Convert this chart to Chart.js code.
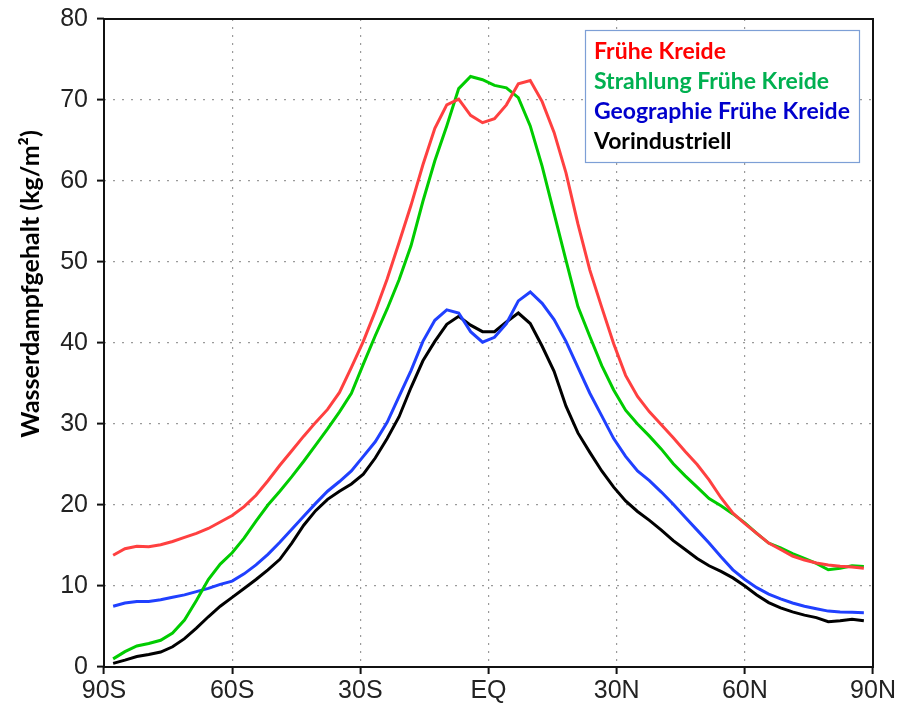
<!DOCTYPE html>
<html>
<head>
<meta charset="utf-8">
<script src="https://cdn.jsdelivr.net/npm/chart.js@4"></script>
<style>
  html, body { margin: 0; padding: 0; background: #fff; }
  #wrap { width: 898px; height: 704px; }
</style>
</head>
<body>
<div id="wrap"><canvas id="chart" width="898" height="704"></canvas></div>
<script>
// Latitudes of the model grid (south to north)
const latitudes = [
  -87.86, -85.10, -82.31, -79.53, -76.74, -73.95, -71.16, -68.37, -65.58, -62.79, -60.00,
  -57.21, -54.42, -51.63, -48.84, -46.04, -43.25, -40.46, -37.67, -34.88, -32.09, -29.30,
  -26.51, -23.72, -20.93, -18.14, -15.35, -12.56, -9.77, -6.98, -4.19, -1.40,
  1.40, 4.19, 6.98, 9.77, 12.56, 15.35, 18.14, 20.93, 23.72, 26.51, 29.30, 32.09,
  34.88, 37.67, 40.46, 43.25, 46.04, 48.84, 51.63, 54.42, 57.21, 60.00, 62.79,
  65.58, 68.37, 71.16, 73.95, 76.74, 79.53, 82.31, 85.10, 87.86
];

// Water vapour content (kg/m2) per run
const fruheKreide = [
  13.8, 14.6, 14.9, 14.85, 15.1, 15.5, 16.0, 16.5, 17.1, 17.9, 18.7,
  19.8, 21.2, 23.0, 24.9, 26.7, 28.5, 30.2, 31.8, 33.9, 37.0, 40.2,
  43.9, 47.9, 52.4, 57.0, 62.0, 66.5, 69.4, 70.1, 68.1, 67.2,
  67.7, 69.4, 72.0, 72.4, 69.8, 66.0, 61.0, 54.7, 49.0, 44.4, 39.9, 36.0,
  33.4, 31.5, 29.9, 28.3, 26.6, 25.0, 23.1, 20.9, 19.0, 17.7, 16.5,
  15.3, 14.5, 13.7, 13.2, 12.85, 12.6, 12.45, 12.35, 12.2
];
const strahlung = [
  1.0, 1.9, 2.6, 2.9, 3.3, 4.2, 5.8, 8.2, 10.8, 12.7, 14.1,
  15.9, 18.0, 20.0, 21.7, 23.5, 25.4, 27.4, 29.4, 31.5, 33.8, 37.4,
  40.9, 44.2, 47.8, 52.0, 57.5, 62.5, 66.8, 71.4, 72.9, 72.5,
  71.8, 71.5, 70.3, 66.8, 61.8, 56.0, 50.2, 44.5, 40.8, 37.2, 34.2, 31.7,
  30.0, 28.5, 26.9, 25.1, 23.6, 22.2, 20.8, 19.9, 18.9, 17.8, 16.5,
  15.3, 14.7, 14.0, 13.4, 12.8, 12.0, 12.2, 12.5, 12.4
];
const geographie = [
  7.5, 7.9, 8.1, 8.1, 8.3, 8.6, 8.9, 9.3, 9.7, 10.2, 10.6,
  11.5, 12.6, 13.9, 15.4, 17.0, 18.6, 20.2, 21.7, 22.9, 24.2, 26.0,
  27.8, 30.2, 33.4, 36.6, 40.2, 42.8, 44.1, 43.7, 41.4, 40.1,
  40.7, 42.4, 45.2, 46.3, 44.9, 42.9, 40.2, 37.0, 33.8, 31.0, 28.2, 26.0,
  24.2, 23.0, 21.6, 20.1, 18.5, 16.9, 15.3, 13.6, 12.0, 10.8, 9.8,
  9.0, 8.4, 7.9, 7.5, 7.2, 6.9, 6.8, 6.75, 6.7
];
const vorindustriell = [
  0.45, 0.85, 1.3, 1.55, 1.85, 2.5, 3.5, 4.8, 6.2, 7.5, 8.6,
  9.7, 10.8, 12.0, 13.3, 15.3, 17.5, 19.3, 20.7, 21.7, 22.6, 23.8,
  25.8, 28.2, 30.9, 34.5, 37.8, 40.2, 42.3, 43.3, 42.2, 41.4,
  41.4, 42.6, 43.7, 42.4, 39.6, 36.5, 32.2, 28.9, 26.5, 24.2, 22.2, 20.5,
  19.2, 18.1, 16.9, 15.6, 14.5, 13.4, 12.5, 11.8, 11.0, 10.0, 8.9,
  7.95, 7.3, 6.8, 6.4, 6.1, 5.6, 5.7, 5.9, 5.7
];

const seriesNames = ['Frühe Kreide', 'Strahlung Frühe Kreide', 'Geographie Frühe Kreide', 'Vorindustriell'];
const xTickLabels = ['90S', '60S', '30S', 'EQ', '30N', '60N', '90N'];
const yTitle = 'Wasserdampfgehalt (kg/m²)';

const lineColors = ['#ff4040', '#00cc00', '#2040ff', '#000000'];
const legendColors = ['#ff0000', '#00b050', '#0000cc', '#000000'];

// pair each value with its latitude
function toPoints(values) {
  return values.map((v, i) => ({ x: latitudes[i], y: v }));
}

// Frame, y title and the boxed legend drawn by hand
const extras = {
  id: 'extras',
  afterDatasetsDraw(chart) {
    const ctx = chart.ctx;
    const a = chart.chartArea;
    ctx.save();
    ctx.strokeStyle = '#111';
    ctx.lineWidth = 2;
    ctx.strokeRect(a.left, a.top, a.right - a.left, a.bottom - a.top);

    // legend box
    ctx.fillStyle = '#fff';
    ctx.fillRect(585.5, 30.5, 274, 132);
    ctx.strokeStyle = '#7d9fd6';
    ctx.lineWidth = 1.2;
    ctx.strokeRect(585.5, 30.5, 274, 132);
    ctx.font = 'bold 23px Lato';
    ctx.textAlign = 'left';
    ctx.textBaseline = 'middle';
    seriesNames.forEach((name, i) => {
      ctx.fillStyle = legendColors[i];
      ctx.fillText(name, 594, 52 + i * 30);
    });
    ctx.restore();
  },
  afterDraw(chart) {
    const ctx = chart.ctx;
    ctx.save();
    ctx.translate(31, 284);
    ctx.rotate(-Math.PI / 2);
    ctx.font = 'bold 25px Lato';
    ctx.fillStyle = '#000';
    ctx.textAlign = 'center';
    ctx.textBaseline = 'middle';
    ctx.fillText(yTitle, 0, 0);
    ctx.restore();
  }
};

const tickFont = { family: 'Liberation Sans', size: 25, lineHeight: 1 };

new Chart(document.getElementById('chart'), {
  type: 'line',
  data: {
    datasets: [fruheKreide, strahlung, geographie, vorindustriell].map((vals, i) => ({
      label: seriesNames[i],
      data: toPoints(vals),
      borderColor: lineColors[i],
      borderWidth: 3,
      pointRadius: 0,
      tension: 0,
      fill: false
    }))
  },
  options: {
    responsive: false,
    animation: false,
    layout: { padding: { left: 0, top: 19, right: 25, bottom: 0 } },
    plugins: { legend: { display: false }, tooltip: { enabled: false } },
    scales: {
      x: {
        type: 'linear',
        min: -90,
        max: 90,
        // fixed height, and let the layout padding decide the side margins
        afterFit(scale) {
          scale.height = 37;
          scale.paddingLeft = 0;
          scale.paddingRight = 0;
        },
        ticks: {
          stepSize: 30,
          autoSkip: false,
          maxRotation: 0,
          padding: 5,
          color: '#222',
          font: tickFont,
          callback: (v) => xTickLabels[Math.round((v + 90) / 30)]
        },
        grid: {
          color: '#9a9a9a',
          lineWidth: 1.2,
          tickLength: 7,
          tickColor: '#111',
          tickWidth: 2,
          tickBorderDash: []
        },
        border: { display: false, dash: [2, 6] }
      },
      y: {
        min: 0,
        max: 80,
        afterFit(scale) {
          scale.width = 104;
          scale.paddingTop = 0;
          scale.paddingBottom = 0;
        },
        ticks: {
          stepSize: 10,
          padding: 9,
          color: '#222',
          font: tickFont
        },
        grid: {
          color: '#9a9a9a',
          lineWidth: 1.2,
          tickLength: 7,
          tickColor: '#111',
          tickWidth: 2,
          tickBorderDash: []
        },
        border: { display: false, dash: [2, 7] }
      }
    }
  },
  plugins: [extras]
});
</script>
</body>
</html>
